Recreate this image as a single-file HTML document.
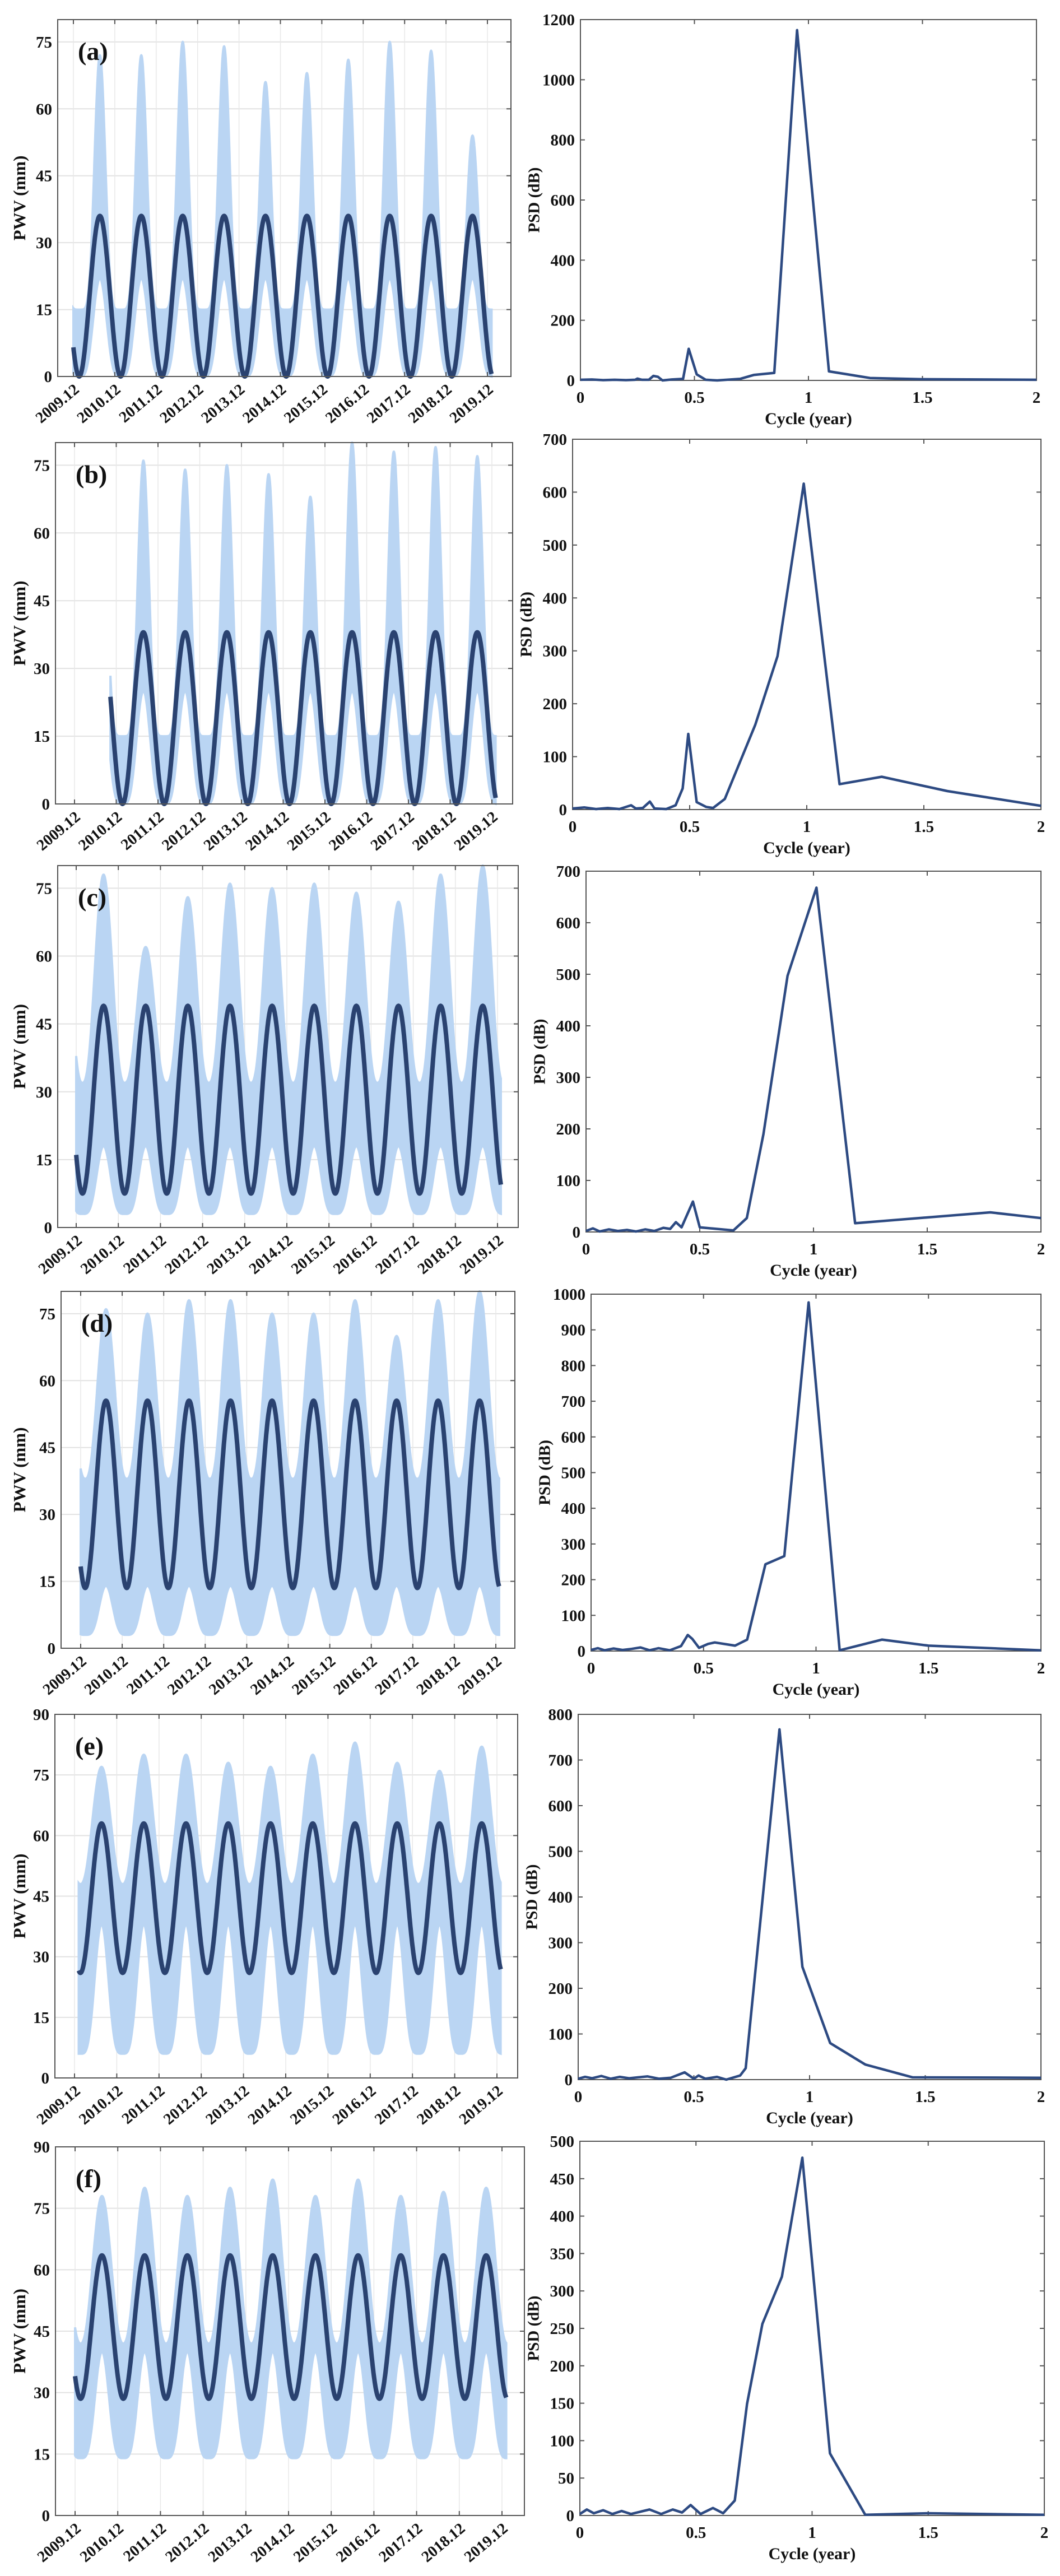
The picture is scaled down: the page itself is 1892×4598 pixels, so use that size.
<!DOCTYPE html>
<html><head><meta charset="utf-8"><style>
html,body{margin:0;padding:0;background:#fff;}
svg{display:block;}
text{font-family:"Liberation Serif",serif;font-weight:bold;fill:#111;}
</style></head><body>
<svg id="fig" width="1892" height="4598" viewBox="0 0 1892 4598" xmlns="http://www.w3.org/2000/svg"></svg>
<script>
// ---------- DATA ----------
const panelLabels = ['(a)','(b)','(c)','(d)','(e)','(f)'];
const dateTicks = ['2009.12','2010.12','2011.12','2012.12','2013.12','2014.12','2015.12','2016.12','2017.12','2018.12','2019.12'];
const pwvYMax = [80,80,80,80,90,90];
const pwvTickStep = [15,15,15,15,15,15];
const fitMin = [0,0,7.5,13.5,26,28.5];
const fitMax = [36,38,49,55.5,63,63.5];
const fitPeak = [0.64,0.65,0.65,0.61,0.64,0.63];
const fitStart = [0,0.86,0,0,0.1,0];
const fitEnd = [10.1,10.09,10.08,10.08,10.09,10.1];
const upperSummer_a = [72,72,75,74,66,68,71,75,73,54];
const upperSummer_b = [70,76,74,75,73,68,80,78,79,77];
const upperSummer_c = [78,62,73,76,75,76,74,72,78,80];
const upperSummer_d = [76,75,78,78,75,75,78,70,78,80];
const upperSummer_e = [77,80,80,78,77,80,83,78,76,82];
const upperSummer_f = [78,80,78,80,82,78,82,78,79,80];
const upperWinter = [15,15,32,38,48,42];
const lowerSummer = [22,25,18,14,38,40];
const lowerWinter = [0,0,3,3,6,14];
const psdYMax = [1200,700,700,1000,800,500];
const psdTickStep = [200,100,100,100,100,50];
const psdX_a = [0,0.05,0.1,0.15,0.2,0.24,0.25,0.27,0.3,0.32,0.34,0.36,0.4,0.45,0.475,0.51,0.55,0.6,0.7,0.76,0.85,0.95,1.09,1.27,1.5,2];
const psdY_a = [2,3,1,2,1,2,6,2,2,15,12,0,3,5,105,20,2,0,5,18,25,1165,30,8,4,2];
const psdX_b = [0,0.05,0.1,0.15,0.2,0.25,0.27,0.3,0.33,0.35,0.4,0.44,0.47,0.494,0.53,0.57,0.6,0.65,0.78,0.875,0.987,1.14,1.32,1.6,2];
const psdY_b = [2,4,1,3,1,8,2,3,15,2,1,8,40,143,14,5,3,20,160,290,616,48,62,35,7];
const psdX_c = [0,0.03,0.06,0.1,0.14,0.18,0.22,0.26,0.3,0.34,0.37,0.395,0.42,0.47,0.5,0.648,0.707,0.78,0.886,1.013,1.183,1.777,2];
const psdY_c = [2,7,1,5,2,4,1,5,2,8,6,19,9,59,9,3,27,190,497,668,17,38,27];
const psdX_d = [0,0.03,0.06,0.1,0.14,0.18,0.22,0.26,0.3,0.35,0.4,0.43,0.45,0.48,0.52,0.55,0.64,0.694,0.775,0.859,0.967,1.105,1.294,1.5,2];
const psdY_d = [3,8,2,7,3,6,10,2,8,2,14,45,34,9,20,24,15,32,243,266,977,2,32,15,2];
const psdX_e = [0,0.03,0.06,0.1,0.14,0.18,0.22,0.26,0.3,0.35,0.4,0.46,0.5,0.52,0.55,0.6,0.64,0.7,0.724,0.87,0.969,1.089,1.241,1.445,2];
const psdY_e = [2,6,3,8,2,6,3,5,7,2,4,16,2,9,2,6,0,9,25,767,247,80,33,5,4];
const psdX_f = [0,0.03,0.06,0.1,0.14,0.18,0.22,0.26,0.3,0.35,0.4,0.44,0.477,0.52,0.573,0.617,0.667,0.72,0.786,0.87,0.958,1.077,1.229,1.5,2];
const psdY_f = [2,8,3,7,2,6,2,5,8,2,8,4,14,2,10,3,20,149,256,319,478,83,1,3,1];

const upperSummerAll = [upperSummer_a,upperSummer_b,upperSummer_c,upperSummer_d,upperSummer_e,upperSummer_f];
const psdXAll = [psdX_a,psdX_b,psdX_c,psdX_d,psdX_e,psdX_f];
const psdYAll = [psdY_a,psdY_b,psdY_c,psdY_d,psdY_e,psdY_f];

// ---------- LAYOUT (pixels, not data) ----------
const leftBox = [
 {L:103,R:912,T:35,B:672,t0:131,t10:870,sharp:3},
 {L:99,R:915,T:790,B:1435,t0:133,t10:878,sharp:3},
 {L:103,R:925,T:1545,B:2191,t0:136,t10:888,sharp:1.3},
 {L:109,R:919,T:2305,B:2942,t0:144,t10:885,sharp:1.3},
 {L:98,R:924,T:3060,B:3709,t0:133,t10:887,sharp:1.2},
 {L:99,R:936,T:3832,B:4490,t0:134,t10:896,sharp:1.2}
];
const rightBox = [
 {L:1036,R:1850,T:35,B:679},
 {L:1022,R:1858,T:784,B:1445},
 {L:1046,R:1858,T:1555,B:2199},
 {L:1055,R:1858,T:2310,B:2947},
 {L:1032,R:1858,T:3060,B:3712},
 {L:1035,R:1864,T:3822,B:4490}
];

const NS='http://www.w3.org/2000/svg';
const svg=document.getElementById('fig');
function mk(tag,attrs,parent){const e=document.createElementNS(NS,tag);for(const k in attrs)e.setAttribute(k,attrs[k]);(parent||svg).appendChild(e);return e;}
function txt(str,attrs,parent){const e=mk('text',attrs,parent);e.textContent=str;return e;}

for(let p=0;p<6;p++){
  const lb=leftBox[p];
  const g=mk('g',{});
  
  
  const xs=t=>lb.t0+(lb.t10-lb.t0)*t/10;
  const ys=v=>lb.B-(lb.B-lb.T)*v/pwvYMax[p];
  for(let v=0;v<=pwvYMax[p];v+=pwvTickStep[p]){
    const gl=mk('line',{x1:lb.L,x2:lb.R,y1:ys(v),y2:ys(v),stroke:'#e2e2e2','stroke-width':2},g);
    
    
  }
  for(let i=0;i<dateTicks.length;i++){
    const gl=mk('line',{x1:xs(i),x2:xs(i),y1:lb.T,y2:lb.B,stroke:'#e8e8e8','stroke-width':1.5},g);
    
    
  }
  let up=[],lo=[];
  for(let t=fitStart[p];t<=fitEnd[p]+1e-9;t+=0.004){
    const s=(Math.cos(2*Math.PI*(t-fitPeak[p]))+1)/2;
    let yi=Math.round(t-fitPeak[p]);yi=Math.max(0,Math.min(upperSummerAll[p].length-1,yi));
    const uS=upperSummerAll[p][yi];
    const u=upperWinter[p]+(uS-upperWinter[p])*Math.pow(s,lb.sharp);
    const l=lowerWinter[p]+(lowerSummer[p]-lowerWinter[p])*s*s;
    up.push(xs(t).toFixed(1)+','+ys(u).toFixed(1));
    lo.push(xs(t).toFixed(1)+','+ys(l).toFixed(1));
  }
  const cloud=mk('polygon',{points:up.concat(lo.reverse()).join(' '),fill:'#bad5f3',stroke:'#bad5f3','stroke-width':4},g);
  
  
  let pts=[];
  const mean=(fitMin[p]+fitMax[p])/2, amp=(fitMax[p]-fitMin[p])/2;
  for(let t=fitStart[p];t<=fitEnd[p]+1e-9;t+=0.01){
    pts.push(xs(t).toFixed(1)+','+ys(mean+amp*Math.cos(2*Math.PI*(t-fitPeak[p]))).toFixed(1));
  }
  const fl=mk('polyline',{points:pts.join(' '),fill:'none',stroke:'#2a4270','stroke-width':8,'stroke-linejoin':'round'},g);
  
  
  const bx=mk('rect',{x:lb.L,y:lb.T,width:lb.R-lb.L,height:lb.B-lb.T,fill:'none',stroke:'#555','stroke-width':2},g);
  
  
  for(let v=0;v<=pwvYMax[p];v+=pwvTickStep[p]){
    mk('line',{x1:lb.R-8,x2:lb.R,y1:ys(v),y2:ys(v),stroke:'#555','stroke-width':2},g);
    const tl=txt(String(v),{x:lb.L-10,y:ys(v)+10,'text-anchor':'end','font-size':29},g);
    
    
  }
  for(let i=0;i<dateTicks.length;i++){
    mk('line',{x1:xs(i),x2:xs(i),y1:lb.B,y2:lb.B-8,stroke:'#555','stroke-width':2},g);
    mk('line',{x1:xs(i),x2:xs(i),y1:lb.T,y2:lb.T+8,stroke:'#555','stroke-width':2},g);
    const tx=xs(i)+12, ty=lb.B+26;
    const dl=txt(dateTicks[i],{x:tx,y:ty,'text-anchor':'end','font-size':28,transform:'rotate(-40 '+tx+' '+ty+')'},g);
    
    
  }
  const yc=(lb.T+lb.B)/2;
  const yl=txt('PWV (mm)',{x:38,y:yc,'text-anchor':'middle','font-size':31,transform:'rotate(-90 38 '+yc+')','dominant-baseline':'middle'},g);
  
  
  const pl=txt(panelLabels[p],{x:lb.L+36,y:lb.T+72,'font-size':46},g);
  
  

  const rb=rightBox[p];
  const gr=mk('g',{});
  
  
  const px=x=>rb.L+(rb.R-rb.L)*x/2;
  const py=v=>rb.B-(rb.B-rb.T)*v/psdYMax[p];
  const rf=mk('rect',{x:rb.L,y:rb.T,width:rb.R-rb.L,height:rb.B-rb.T,fill:'none',stroke:'#555','stroke-width':2},gr);
  
  
  for(let v=0;v<=psdYMax[p]+1e-9;v+=psdTickStep[p]){
    mk('line',{x1:rb.R-8,x2:rb.R,y1:py(v),y2:py(v),stroke:'#555','stroke-width':2},gr);
    mk('line',{x1:rb.L,x2:rb.L+8,y1:py(v),y2:py(v),stroke:'#555','stroke-width':2},gr);
    const tl=txt(String(v),{x:rb.L-10,y:py(v)+10,'text-anchor':'end','font-size':29},gr);
    
    
  }
  const xt=[0,0.5,1,1.5,2];
  for(let i=0;i<xt.length;i++){
    mk('line',{x1:px(xt[i]),x2:px(xt[i]),y1:rb.B,y2:rb.B-8,stroke:'#555','stroke-width':2},gr);
    mk('line',{x1:px(xt[i]),x2:px(xt[i]),y1:rb.T,y2:rb.T+8,stroke:'#555','stroke-width':2},gr);
    const tl=txt(String(xt[i]),{x:px(xt[i]),y:rb.B+40,'text-anchor':'middle','font-size':29},gr);
    
    
  }
  const xcl=txt('Cycle (year)',{x:(rb.L+rb.R)/2,y:rb.B+78,'text-anchor':'middle','font-size':30},gr);
  
  
  const ryc=(rb.T+rb.B)/2, rx=rb.L-80;
  const ryl=txt('PSD (dB)',{x:rx,y:ryc,'text-anchor':'middle','font-size':29,transform:'rotate(-90 '+rx+' '+ryc+')','dominant-baseline':'middle'},gr);
  
  
  const lp=psdXAll[p].map((x,i)=>px(x).toFixed(1)+','+py(psdYAll[p][i]).toFixed(1)).join(' ');
  const pline=mk('polyline',{points:lp,fill:'none',stroke:'#2d4a82','stroke-width':4.5,'stroke-linejoin':'round'},gr);
  
  
}
</script>
</body></html>
